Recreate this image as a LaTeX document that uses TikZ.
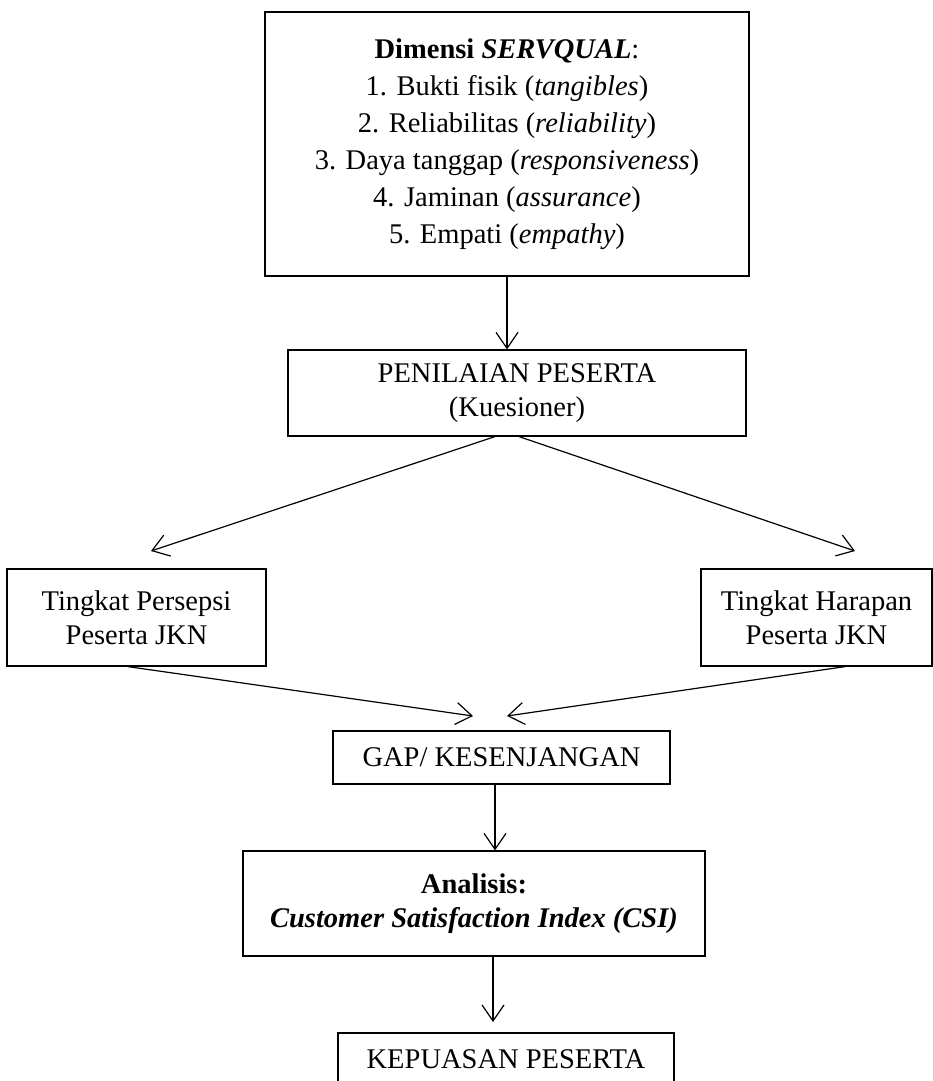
\documentclass[tikz,border=0pt]{standalone}
\usepackage{fontspec}
\setmainfont{Liberation Serif}
\usetikzlibrary{arrows.meta}

\tikzset{
	kotak/.style={draw, rectangle, line width=1.2pt, align=center, inner sep=0pt,
		font=\fontsize{28.5}{34}\selectfont},
	panah/.style={-{Straight Barb[length=16pt,width=22pt,line width=1.2pt]}, line width=1.2pt},
}

\begin{document}
\begin{tikzpicture}[x=1pt,y=-1pt]
		\clip (0,0) rectangle (933,1081);
		\node[kotak, minimum width=484pt, minimum height=264pt,
		font=\fontsize{28.5}{37}\selectfont] (servqual) at (507,144)
		{\textbf{Dimensi \textit{SERVQUAL}}:\\
			1. Bukti fisik (\textit{tangibles})\\
			2. Reliabilitas (\textit{reliability})\\
			3. Daya tanggap (\textit{responsiveness})\\
			4. Jaminan (\textit{assurance})\\
			5. Empati (\textit{empathy})};
		\node[kotak, minimum width=458pt, minimum height=86pt] (penilaian) at (517,393)
		{PENILAIAN PESERTA\\(Kuesioner)};
		\node[kotak, minimum width=259pt, minimum height=97pt] (persepsi) at (136.5,617.5)
		{Tingkat Persepsi\\Peserta JKN};
		\node[kotak, minimum width=231pt, minimum height=97pt] (harapan) at (816.5,617.5)
		{Tingkat Harapan\\Peserta JKN};
		\node[kotak, minimum width=337pt, minimum height=53pt] (gap) at (501.5,757.5)
		{GAP/ KESENJANGAN};
		\node[kotak, minimum width=462pt, minimum height=105pt] (analisis) at (474,903.5)
		{\textbf{Analisis:}\\\textbf{\textit{Customer Satisfaction Index (CSI)}}};
		\node[kotak, minimum width=336pt, minimum height=53pt] (kepuasan) at (506,1059.5)
		{KEPUASAN PESERTA};
		% ujung panah yang tidak menyentuh kotak
		\coordinate (kiri) at (151,551);
		\coordinate (kanan) at (855,551);
		\coordinate (gapkiri) at (473,716);
		\coordinate (gapkanan) at (507,716);
		\coordinate (bawah) at (493,1022);
		\draw[panah] (servqual.south) -- (servqual.south |- penilaian.north);
		\draw[panah] ([xshift=-22pt]penilaian.south) -- (kiri);
		\draw[panah] ([xshift=2pt]penilaian.south) -- (kanan);
		\draw[panah] ([xshift=-8.5pt]persepsi.south) -- (gapkiri);
		\draw[panah] ([xshift=28.5pt]harapan.south) -- (gapkanan);
		\draw[panah] ([xshift=-6.5pt]gap.south) -- ([xshift=-6.5pt]gap.south |- analisis.north);
		\draw[panah] ([xshift=19pt]analisis.south) -- (bawah);
\end{tikzpicture}
\end{document}
